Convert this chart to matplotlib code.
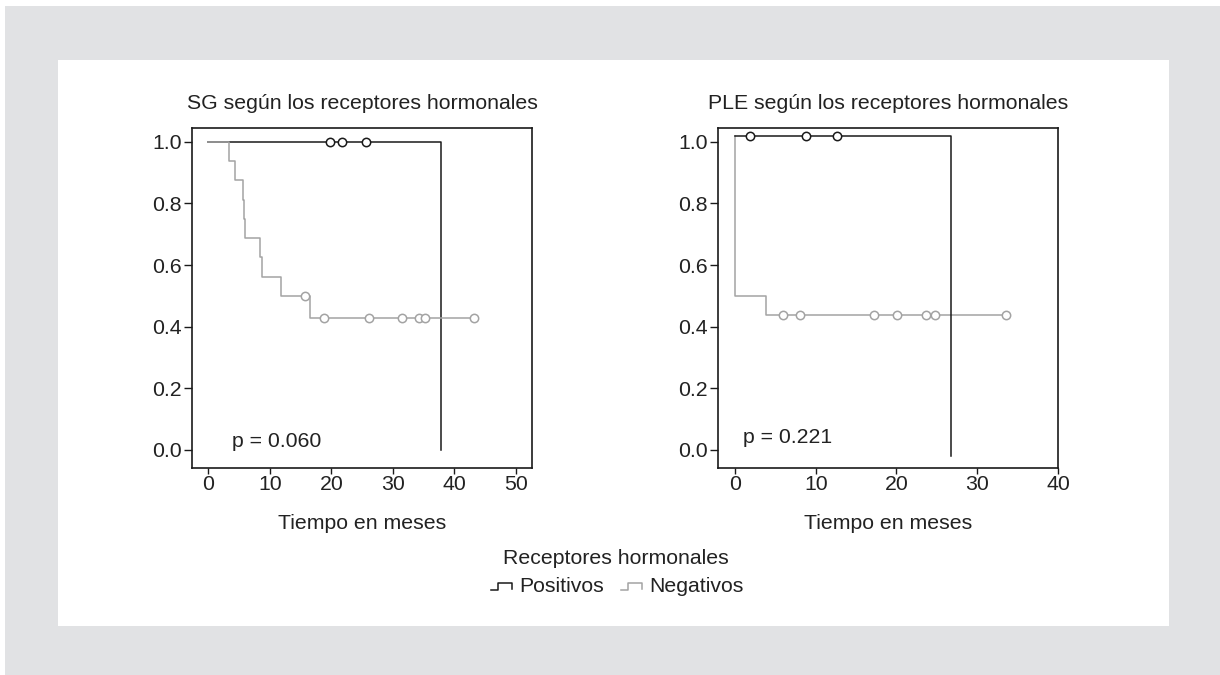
import matplotlib
matplotlib.use("Agg")
import matplotlib.pyplot as plt
from matplotlib.patches import Rectangle
from matplotlib.lines import Line2D
from matplotlib.legend_handler import HandlerBase
import numpy as np

plt.rcParams["font.family"] = ["Liberation Sans", "DejaVu Sans"]

TEXT = "#222222"
BLACK = "#1a1a1a"
GREY = "#a3a3a3"

# --- SG (overall survival) ---
sg_pos_t = [0.0, 37.9]
sg_pos_s = [1.0, 0.0]
sg_pos_cens = [19.8, 21.8, 25.7]

sg_neg_t = [0.0, 3.4, 4.4, 5.6, 5.8, 6.0, 8.45, 8.7, 11.9, 16.6, 43.2]
sg_neg_s = [1.0, 0.938, 0.875, 0.812, 0.75, 0.688, 0.625, 0.562, 0.5, 0.429, 0.429]
sg_neg_cens = [15.8, 18.75, 26.2, 31.5, 34.3, 35.3, 43.2]

# --- PLE (progression-free) ---
ple_pos_t = [0.0, 26.7]
ple_pos_s = [1.02, -0.02]
ple_pos_cens = [1.86, 8.8, 12.6]

ple_neg_t = [0.0, 0.0, 3.84, 33.5]
ple_neg_s = [1.02, 0.5, 0.4375, 0.4375]
ple_neg_cens = [5.95, 8.0, 17.2, 20.1, 23.7, 24.8, 33.5]

y_ticks = [0.0, 0.2, 0.4, 0.6, 0.8, 1.0]
y_ticklabels = ["0.0", "0.2", "0.4", "0.6", "0.8", "1.0"]

groups = ["Positivos", "Negativos"]
group_colors = [BLACK, GREY]


def surv_at(t, times, surv):
    # step-function lookup (right-continuous)
    idx = np.searchsorted(times, t, side="right") - 1
    return np.asarray(surv)[idx]


def km_curve(ax, times, surv, cens, color, z):
    ax.step(times, surv, where="post", color=color, lw=1.1, zorder=z)
    ax.plot(cens, [surv_at(c, times, surv) for c in cens], ls="none",
            marker="o", ms=6, mfc="white", mec=color, mew=1.1, zorder=z + 0.5)


class StepHandler(HandlerBase):
    # small "_|‾|" step glyph like the SPSS survival legend
    def create_artists(self, legend, orig_handle, xdescent, ydescent,
                       width, height, fontsize, trans):
        x0, y0 = -xdescent, -ydescent
        xa = x0 + 0.33 * width
        xb = x0 + width
        lo, hi, end = y0 + 0.12 * height, y0 + 0.55 * height, y0 + 0.2 * height
        line = Line2D([x0, xa, xa, xb, xb], [lo, lo, hi, hi, end],
                      color=orig_handle.get_color(), lw=1.1, transform=trans)
        return [line]


fig = plt.figure(figsize=(12.2, 6.75), dpi=100, facecolor="white")

# grey page and white card
W, H = 1220, 675
fig.patches.append(Rectangle((5 / W, 0), 1 - 5 / W, (H - 6) / H,
                             transform=fig.transFigure, facecolor="#e1e2e4",
                             edgecolor="none", zorder=-10))
fig.patches.append(Rectangle((58 / W, (H - 626) / H), (1169 - 58) / W, (626 - 60) / H,
                             transform=fig.transFigure, facecolor="white",
                             edgecolor="none", zorder=-9))

ax1 = fig.add_axes([191.7 / W, (H - 468.3) / H, 340.6 / W, 340.6 / H])
ax2 = fig.add_axes([717.7 / W, (H - 468.3) / H, 340.3 / W, 340.6 / H])

km_curve(ax1, sg_pos_t, sg_pos_s, sg_pos_cens, BLACK, 2)
km_curve(ax1, sg_neg_t, sg_neg_s, sg_neg_cens, GREY, 3)
km_curve(ax2, ple_neg_t, ple_neg_s, ple_neg_cens, GREY, 2)
km_curve(ax2, ple_pos_t, ple_pos_s, ple_pos_cens, BLACK, 3)

panels = [
    (ax1, "SG según los receptores hormonales", (-2.7, 52.7), [0, 10, 20, 30, 40, 50],
     "p = 0.060", (3.8, 0.011)),
    (ax2, "PLE según los receptores hormonales", (-2.14, 40.0), [0, 10, 20, 30, 40],
     "p = 0.221", (0.95, 0.024)),
]

for ax, title, xlim, xticks, ptxt, ppos in panels:
    ax.set_xlim(*xlim)
    ax.set_ylim(-0.0594, 1.0454)
    ax.set_xticks(xticks)
    ax.set_yticks(y_ticks)
    ax.set_yticklabels(y_ticklabels)
    ax.tick_params(direction="out", width=1.0, labelsize=15.3,
                   colors=BLACK, labelcolor=TEXT)
    ax.tick_params(axis="y", length=5.5, pad=1.5)
    ax.tick_params(axis="x", length=4.5, pad=0.3)
    for sp in ax.spines.values():
        sp.set_linewidth(1.2)
        sp.set_color(BLACK)
    ax.set_title(title, fontsize=15.3, color=TEXT, pad=13.5)
    ax.set_xlabel("Tiempo en meses", fontsize=15.3, color=TEXT, labelpad=14.5)
    ax.text(ppos[0], ppos[1], ptxt, fontsize=15.3, color=TEXT, va="baseline")

fig.text(616 / W, (H - 564) / H, "Receptores hormonales", fontsize=15.3,
         color=TEXT, ha="center", va="baseline")
handles = [Line2D([], [], color=c) for c in group_colors]
leg = fig.legend(handles, groups, ncol=2, frameon=False, fontsize=15.3,
                 handler_map={Line2D: StepHandler()}, handlelength=1.0,
                 handletextpad=0.33, columnspacing=0.8, borderpad=0,
                 loc="center", bbox_to_anchor=(617 / W, (H - 586) / H))
for t in leg.get_texts():
    t.set_color(TEXT)

fig.savefig("out.png", dpi=100, facecolor=fig.get_facecolor())
